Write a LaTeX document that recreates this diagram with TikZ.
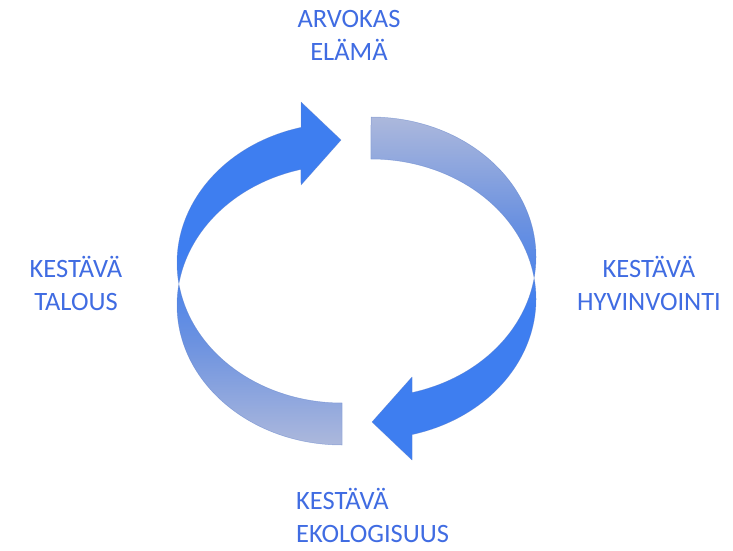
\documentclass[tikz,border=0pt]{standalone}
\usepackage{fontspec}
\setmainfont{Carlito}
\usetikzlibrary{positioning}

\definecolor{labelblue}{RGB}{64,108,226}
\definecolor{arrowbright}{RGB}{62,126,240}
\definecolor{arrowmid}{RGB}{108,146,224}
\definecolor{arrowpale}{RGB}{172,184,220}
\definecolor{arrowedge}{RGB}{90,125,200}
\pgfdeclareverticalshading{arrowfade}{100bp}{color(0bp)=(arrowbright); color(47bp)=(arrowbright); color(60bp)=(arrowmid); color(75bp)=(arrowpale); color(100bp)=(arrowpale)}

\tikzset{bandarrow/.style={shading=arrowfade, draw=arrowedge, draw opacity=.5, line width=.5pt, line join=round}}

\begin{document}
\begin{tikzpicture}[x=1pt,y=1pt]
\useasboundingbox (0,0) rectangle (733,550);
            \begin{scope}[%
                every node/.style={text=labelblue,
                font=\fontsize{26.5}{33}\selectfont,
                align=center,
                anchor=base,
                inner sep=0,
            }]
    \node (A) at (349,489) {ARVOKAS\\ELÄMÄ};
    \node (B) at (649,240) {KESTÄVÄ\\HYVINVOINTI};
    \node (C)[align=left, anchor=base west] at (296,8) {KESTÄVÄ\\EKOLOGISUUS};
    \node (D) at (76,240) {KESTÄVÄ\\TALOUS};
  \end{scope}

    % right band: tail at the top, head at the bottom
    \path[bandarrow] (371,433) arc[start angle=90, end angle=-75.6, x radius=165, y radius=140]
        -- (412,173) -- (372,128) -- (412,90) -- (412,115.4)
        arc[start angle=-75.6, end angle=90, x radius=165, y radius=140] -- cycle;
    % left band: tail at the bottom, head at the top
    \path[bandarrow, shading angle=180] (342,105) arc[start angle=270, end angle=104.4, x radius=165, y radius=140]
        -- (301,365) -- (341,410) -- (301,448) -- (301,422.6)
        arc[start angle=104.4, end angle=270, x radius=165, y radius=140] -- cycle;
\end{tikzpicture}
\end{document}
